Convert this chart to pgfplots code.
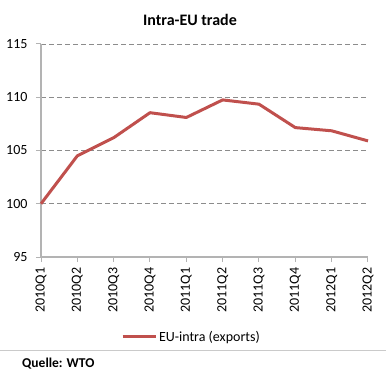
\documentclass[border=0pt]{standalone}
\usepackage{pgfplots}
\pgfplotsset{compat=1.18}
\usepackage{fontspec}
\setmainfont{Carlito}
\definecolor{lineRed}{HTML}{C0504D}
\definecolor{axGray}{HTML}{B3B3B3}
\definecolor{gridGray}{HTML}{8C8C8C}
\begin{document}
\begin{tikzpicture}
\path[use as bounding box] (0bp,0bp) rectangle (386bp,378bp);
\begin{axis}[
  at={(41bp,121bp)}, anchor=south west,
  scale only axis, width=327bp, height=213bp,
  xmin=0, xmax=9, ymin=95, ymax=115,
  xtick={0,...,9},
  xticklabels={2010Q1,2010Q2,2010Q3,2010Q4,2011Q1,2011Q2,2011Q3,2011Q4,2012Q1,2012Q2},
  xticklabel style={rotate=90, anchor=east, font=\fontsize{14bp}{16bp}\selectfont},
  ytick={95,100,105,110,115},
  yticklabel style={font=\fontsize{14bp}{16bp}\selectfont},
  /pgf/number format/assume math mode=true,
  axis x line*=bottom, axis y line*=left,
  axis line style={axGray, line width=1.2bp, -},
  tick style={axGray, line width=1bp},
  tick align=outside, major tick length=5bp,
  ymajorgrids, grid style={gridGray, line width=0.9bp, dash pattern=on 5bp off 3bp},
  xticklabel shift=2bp, yticklabel shift=5bp,
  legend style={at={(axis description cs:0.46,-0.375)}, anchor=center, draw=none, fill=none,
    font=\fontsize{14bp}{16bp}\selectfont, inner sep=1bp},
  legend image code/.code={\draw[#1] (0bp,0bp) -- (33bp,0bp);},
  legend cell align=left,
  clip=false,
]
\addplot[lineRed, line width=3bp, line join=round] coordinates {
(0,100) (1,104.5) (2,106.2) (3,108.55) (4,108.1) (5,109.75) (6,109.35) (7,107.15) (8,106.85) (9,105.9)
};
\addlegendentry{EU-intra (exports)}
\end{axis}
\node[font=\bfseries\fontsize{16bp}{18bp}\selectfont] at (190bp,358bp) {Intra-EU trade};
\draw[axGray!70, line width=1bp] (0bp,27bp) -- (386bp,27bp);
\node[font=\bfseries\fontsize{13.5bp}{16bp}\selectfont, anchor=west, inner sep=0] at (22bp,14bp) {Quelle: WTO};
\end{tikzpicture}
\end{document}
